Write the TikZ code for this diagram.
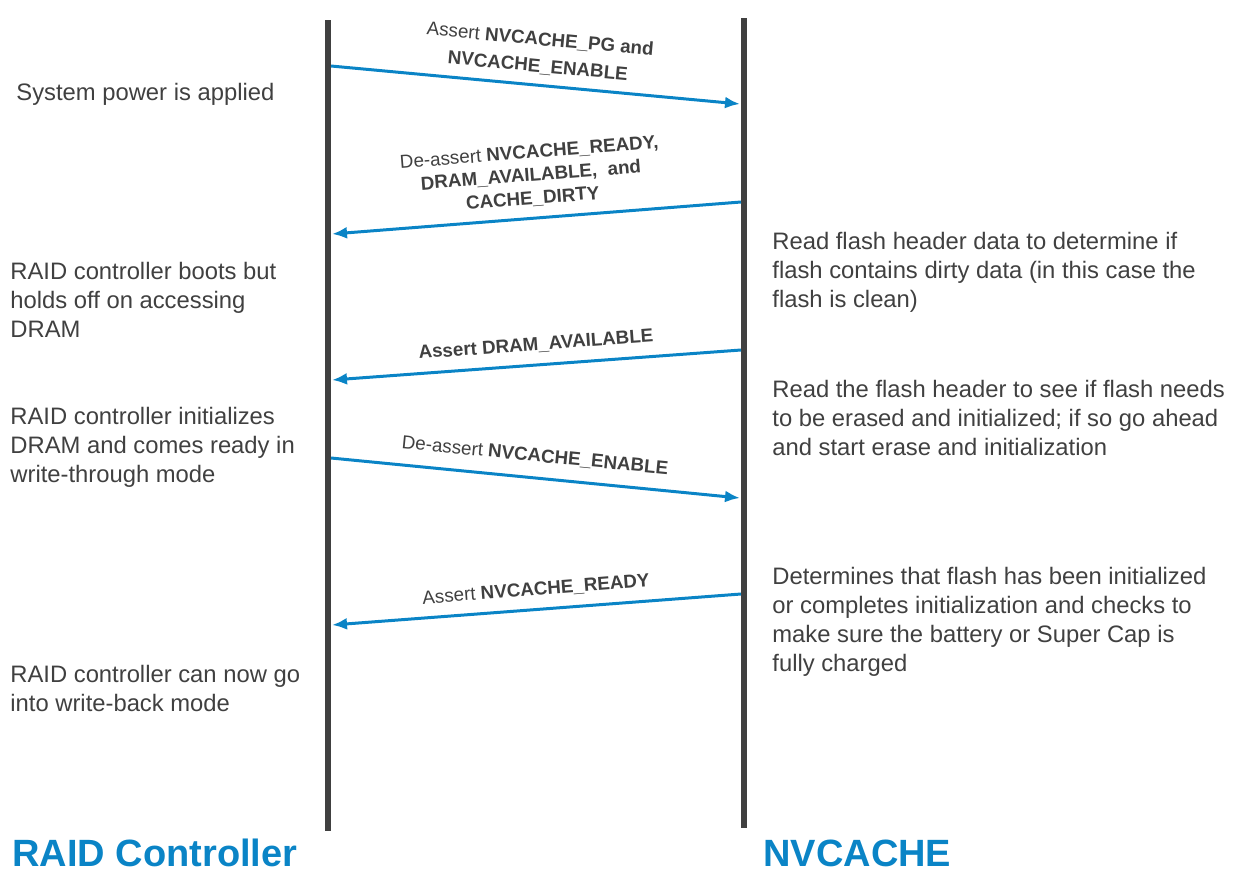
\documentclass[tikz,border=0pt]{standalone}
\usepackage{fontspec}
\setmainfont{Liberation Sans}
\usetikzlibrary{arrows.meta}
\definecolor{sigblue}{HTML}{0A84C6}
\definecolor{linegray}{HTML}{404040}
\begin{document}
\begin{tikzpicture}[x=0.5pt,y=-0.5pt,
  life/.style={linegray,line width=3pt},
  sig/.style={sigblue,line width=1.5pt,-{Latex[length=7.5pt,width=6pt]}},
  note/.style={anchor=west,align=left,inner sep=0pt,text=linegray,font=\fontsize{11.9}{14.5}\selectfont},
  siglabel/.style={align=center,inner sep=0pt,text=linegray,font=\fontsize{9.4}{11.5}\selectfont},
  title/.style={anchor=west,inner sep=0pt,text=sigblue,font=\fontsize{19}{22}\selectfont\bfseries}]
\useasboundingbox (0,0) rectangle (1237,873);
% the two lifelines
\coordinate (rctop) at (328,20);
\coordinate (rcbot) at (328,831);
\coordinate (nvtop) at (744,18);
\coordinate (nvbot) at (744,828);
\draw[life] (rctop) -- (rcbot);
\draw[life] (nvtop) -- (nvbot);
% ends of the signals on each lifeline
\coordinate (rc1) at (331,66);  \coordinate (nv1) at (740,104);
\coordinate (rc2) at (332,234); \coordinate (nv2) at (741,202);
\coordinate (rc3) at (332,380); \coordinate (nv3) at (741,350);
\coordinate (rc4) at (331,458); \coordinate (nv4) at (740,498);
\coordinate (rc5) at (332,625); \coordinate (nv5) at (741,594);
\draw[sig] (rc1) -- (nv1);
\draw[sig] (nv2) -- (rc2);
\draw[sig] (nv3) -- (rc3);
\draw[sig] (rc4) -- (nv4);
\draw[sig] (nv5) -- (rc5);
% signal names
\node[siglabel,rotate=-5.3] (pg) at (539,53) {Assert \textbf{NVCACHE\_PG and}\\[2pt]\textbf{NVCACHE\_ENABLE}};
\node[siglabel,rotate=4.5] (clr) at (531,176) {De-assert \textbf{NVCACHE\_READY,}\\\textbf{DRAM\_AVAILABLE,~ and}\\\textbf{CACHE\_DIRTY}};
\node[siglabel,rotate=4.2] (dram) at (536,345) {\textbf{Assert DRAM\_AVAILABLE}};
\node[siglabel,rotate=-5.6] (en) at (535,456) {De-assert \textbf{NVCACHE\_ENABLE}};
\node[siglabel,rotate=4.4] (rdy) at (536,590) {Assert \textbf{NVCACHE\_READY}};
% RAID controller side
\node[note] (pwr) at (16,94) {System power is applied};
\node[note] (boot) at (10,300) {RAID controller boots but\\holds off on accessing\\DRAM};
\node[note] (init) at (10,447) {RAID controller initializes\\DRAM and comes ready in\\write-through mode};
\node[note] (wb) at (10,688) {RAID controller can now go\\into write-back mode};
% NVCACHE side
\node[note] (hdr) at (772,272) {Read flash header data to determine if\\flash contains dirty data (in this case the\\flash is clean)};
\node[note] (erase) at (772,418) {Read the flash header to see if flash needs\\to be erased and initialized; if so go ahead\\and start erase and initialization};
\node[note] (chk) at (772,622) {Determines that flash has been initialized\\or completes initialization and checks to\\make sure the battery or Super Cap is\\fully charged};
% lifeline names
\node[title] (rcname) at (12,853) {RAID Controller};
\node[title] (nvname) at (763,853) {NVCACHE};
\end{tikzpicture}
\end{document}
